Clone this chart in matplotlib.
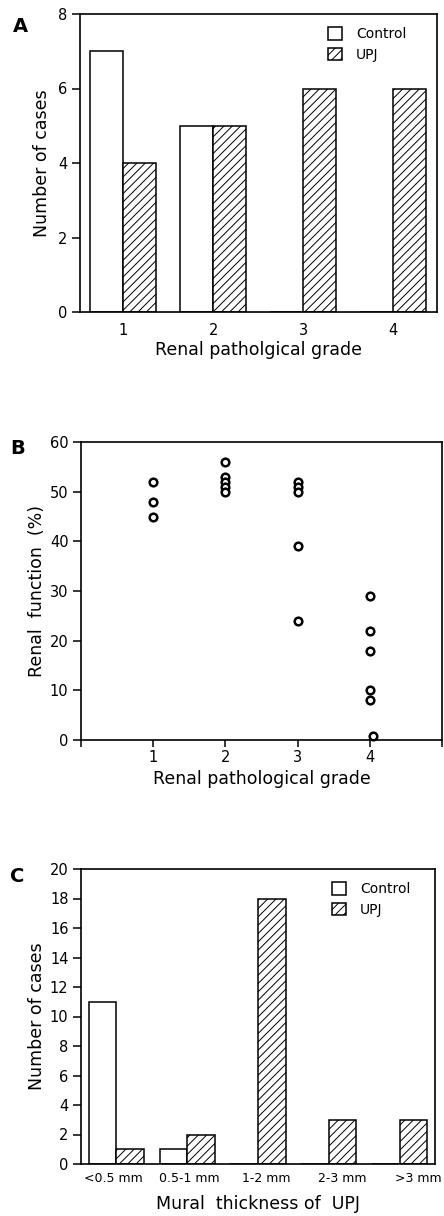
import numpy as np
import matplotlib
matplotlib.use("Agg")
import matplotlib.pyplot as plt
from matplotlib.patches import Patch

plt.rcParams['font.family'] = ['DejaVu Sans']
plt.rcParams['hatch.linewidth'] = 0.7

# Panel A: number of cases per renal pathological grade
grades = [1, 2, 3, 4]
control_a = [7, 5, 0, 0]
upj_a = [4, 5, 6, 6]

# Panel B: renal function by grade
b_grade = [1, 1, 1, 2, 2, 2, 2, 2, 3, 3, 3, 3, 3, 4, 4, 4, 4, 4, 4.05]
b_function = [52, 48, 45, 56, 53, 52, 51, 50, 52, 51, 50, 39, 24, 29, 22, 18, 10, 8, 0.8]

# Panel C: mural thickness of UPJ
thickness = ['<0.5 mm', '0.5-1 mm', '1-2 mm', '2-3 mm', '>3 mm']
control_c = [11, 1, 0, 0, 0]
upj_c = [1, 2, 18, 3, 3]

fig = plt.figure(figsize=(4.44, 12.16), dpi=100)
W, H = 444, 1216


def add_ax(l, r, t, b):
    return fig.add_axes([l / W, 1 - b / H, (r - l) / W, (b - t) / H])


def style(ax):
    for s in ax.spines.values():
        s.set_linewidth(1.2)
    ax.tick_params(axis='y', direction='out', length=6, width=1.1, labelsize=10.5, pad=3)


def legend(ax, x, y):
    handles = [Patch(facecolor='white', edgecolor='black', lw=1.1, label='Control'),
               Patch(facecolor='white', edgecolor='black', lw=1.1, hatch='////', label='UPJ')]
    ax.legend(handles=handles, loc='upper left', bbox_to_anchor=(x, y), frameon=False,
              fontsize=10, handlelength=1.0, handleheight=1.0, handletextpad=1.0,
              labelspacing=0.45, borderpad=0, borderaxespad=0)


# ---- A ----
ax = add_ax(80, 437, 14, 312)
w = 0.37
x = np.array(grades)
ax.bar(x - w / 2, control_a, w, facecolor='white', edgecolor='black', lw=1.1)
ax.bar(x + w / 2, upj_a, w, facecolor='white', edgecolor='black', lw=1.1, hatch='////')
ax.set_xlim(0.52, 4.49)
ax.set_ylim(0, 8)
ax.set_yticks(range(0, 9, 2))
ax.set_xticks(grades)
ax.tick_params(axis='x', length=0, labelsize=10.5, pad=8)
style(ax)
ax.set_xlabel('Renal patholgical grade', fontsize=12.5, labelpad=2)
ax.set_ylabel('Number of cases', fontsize=12.5, labelpad=5)
legend(ax, 0.695, 0.955)
fig.text(20 / W, 1 - 26 / H, 'A', fontsize=14, fontweight='bold', va='center', ha='center')

# ---- B ----
ax = add_ax(81, 442, 442, 740)
ax.plot(b_grade, b_function, 'o', ms=5.5, mfc='white', mec='black', mew=1.8, clip_on=False)
ax.set_xlim(0, 5)
ax.set_ylim(0, 60)
ax.set_yticks(range(0, 61, 10))
ax.set_xticks(range(0, 6))
ax.set_xticklabels(['', '1', '2', '3', '4', ''])
ax.tick_params(axis='x', direction='out', length=5, width=1.1, labelsize=10.5, pad=2)
style(ax)
ax.set_xlabel('Renal pathological grade', fontsize=12.5, labelpad=4)
ax.set_ylabel('Renal  function  (%)', fontsize=12.5, labelpad=3)
fig.text(18 / W, 1 - 448 / H, 'B', fontsize=14, fontweight='bold', va='center', ha='center')

# ---- C ----
ax = add_ax(81, 435, 869, 1164)
w = 0.39
x = np.arange(len(thickness))
ax.bar(x - w / 2, control_c, w, facecolor='white', edgecolor='black', lw=1.1)
ax.bar(x + w / 2, upj_c, w, facecolor='white', edgecolor='black', lw=1.1, hatch='////')
ax.set_xlim(-0.5, 4.5)
ax.set_ylim(0, 20)
ax.set_yticks(range(0, 21, 2))
ax.set_xticks(x * 1.075 - 0.04)
ax.set_xticklabels(thickness)
ax.tick_params(axis='x', length=0, labelsize=9, pad=6)
style(ax)
ax.set_xlabel('Mural  thickness of  UPJ', fontsize=12.5, labelpad=7)
ax.set_ylabel('Number of cases', fontsize=12.5, labelpad=3)
legend(ax, 0.71, 0.955)
fig.text(17 / W, 1 - 876 / H, 'C', fontsize=14, fontweight='bold', va='center', ha='center')

fig.savefig('out.png', dpi=100)
